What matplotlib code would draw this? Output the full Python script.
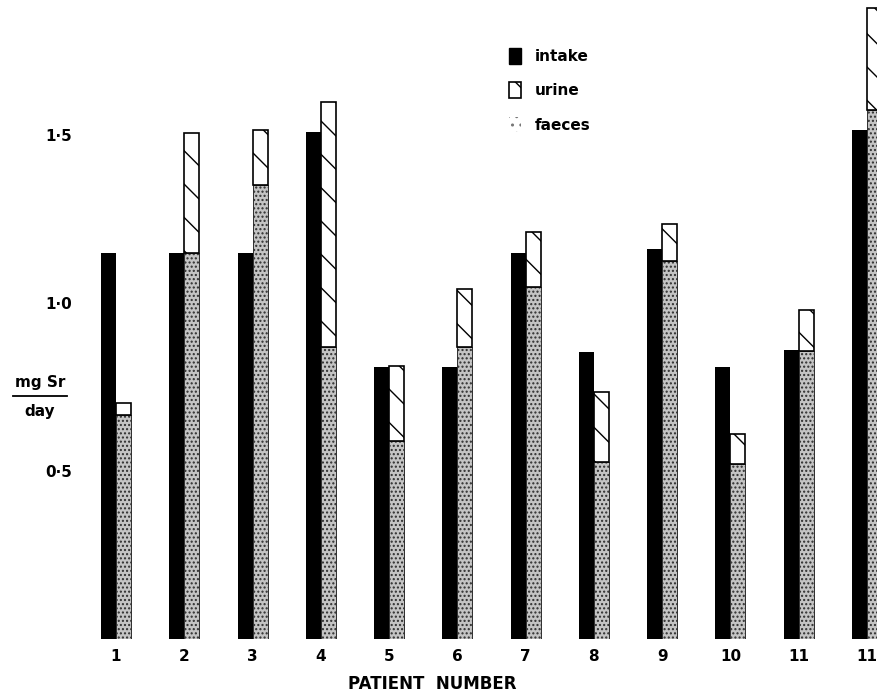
import matplotlib
matplotlib.use("Agg")
import matplotlib.pyplot as plt
import numpy as np
from matplotlib.patches import Patch
from matplotlib.lines import Line2D

# strontium balance per patient, mg Sr/day
patients = ["1", "2", "3", "4", "5", "6", "7", "8", "9", "10", "11", "11"]
intake = [1.15, 1.15, 1.15, 1.51, 0.81, 0.81, 1.15, 0.855, 1.16, 0.81, 0.86, 1.515]
faeces = [0.667, 1.15, 1.35, 0.87, 0.59, 0.87, 1.048, 0.527, 1.125, 0.522, 0.858, 1.575]
urine = [0.035, 0.356, 0.165, 0.728, 0.223, 0.172, 0.163, 0.208, 0.11, 0.088, 0.12, 0.303]
yticks = [0.5, 1.0, 1.5]
ytick_labels = ["0·5", "1·0", "1·5"]

plt.rcParams["font.family"] = ["DejaVu Sans"]
plt.rcParams["font.weight"] = "bold"
plt.rcParams["hatch.linewidth"] = 1.0

W, H = 878, 696
fig = plt.figure(figsize=(W / 100, H / 100), dpi=100)
ax = fig.add_axes([90 / W, 57 / H, 788 / W, 639 / H])

x = np.arange(len(patients))
bw = 0.22

ax.bar(x - bw / 2, intake, width=bw, color="black", linewidth=0)
ax.bar(x + bw / 2, faeces, width=bw, color="#c4c4c4", edgecolor="#2e2e2e",
       hatch="....", linewidth=0.7)
ax.bar(x + bw / 2, urine, bottom=faeces, width=bw, color="white",
       edgecolor="black", hatch="\\", linewidth=1.2)

ax.set_xlim(-0.381, 11.162)
ax.set_ylim(0, 1.902)
for s in ax.spines.values():
    s.set_visible(False)

ax.set_xticks(x)
ax.set_xticklabels(patients, fontsize=11, fontweight="bold")
ax.set_yticks(yticks)
ax.set_yticklabels(ytick_labels, fontsize=11, fontweight="bold")
ax.tick_params(axis="both", length=0)
ax.tick_params(axis="x", pad=7)
ax.tick_params(axis="y", pad=13)

# axis captions
fig.text(432 / W, 1 - 684 / H, "PATIENT  NUMBER", ha="center", va="center",
         fontsize=12, fontweight="bold")
fig.text(40 / W, 1 - 382 / H, "mg Sr", ha="center", va="center",
         fontsize=11, fontweight="bold")
fig.text(40 / W, 1 - 411 / H, "day", ha="center", va="center",
         fontsize=11, fontweight="bold")
fig.add_artist(Line2D([13 / W, 67 / W], [1 - 396 / H, 1 - 396 / H],
                      transform=fig.transFigure, color="black", linewidth=1.3))

handles = [
    Patch(facecolor="black", edgecolor="black"),
    Patch(facecolor="white", edgecolor="black", hatch="\\", linewidth=1.2),
    Patch(facecolor="white", edgecolor="#777777", hatch="..", linewidth=0),
]
fig.legend(handles, ["intake", "urine", "faeces"], loc="upper left",
           bbox_to_anchor=(509 / W, 1 - 48 / H), frameon=False,
           prop={"size": 11, "weight": "bold"}, handlelength=0.8,
           handleheight=1.2, handletextpad=0.9, labelspacing=1.2,
           borderpad=0, borderaxespad=0)

fig.savefig("out.png", dpi=100)
